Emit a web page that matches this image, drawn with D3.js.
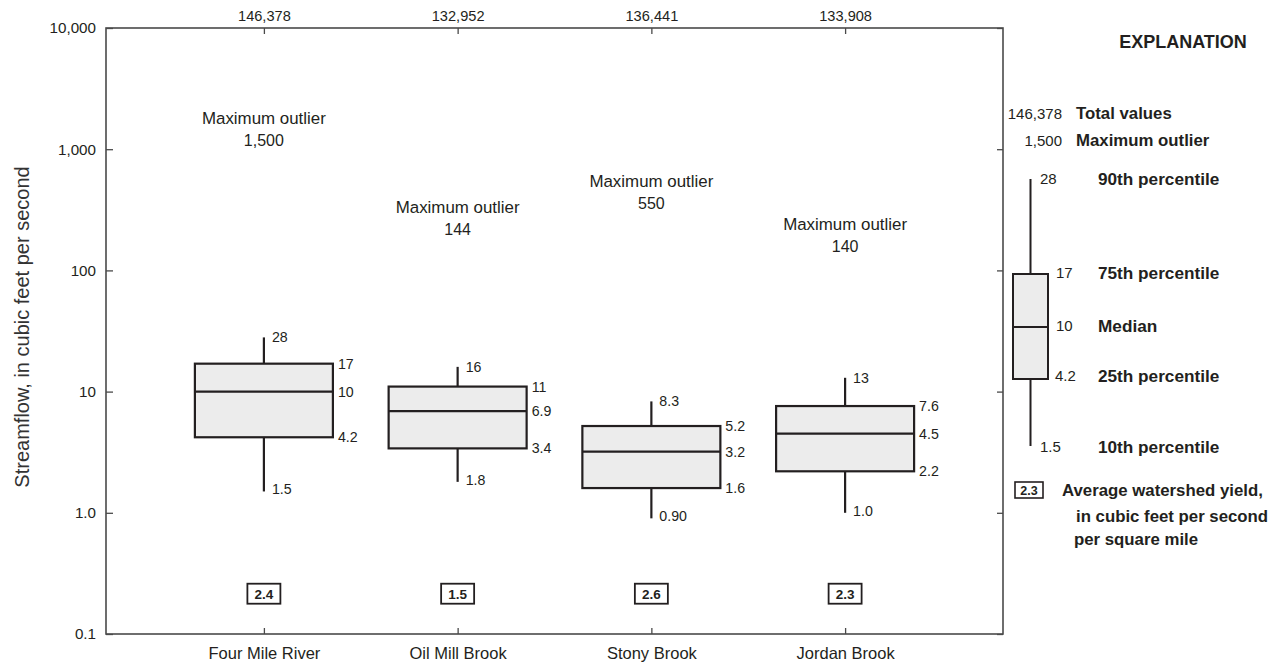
<!DOCTYPE html>
<html>
<head>
<meta charset="utf-8">
<script src="https://cdn.jsdelivr.net/npm/d3@7"></script>
<style>
  html, body { margin: 0; padding: 0; background: #fff; }
  svg { display: block; font-family: "Liberation Sans", Arial, sans-serif; }
</style>
</head>
<body>
<svg id="chart" width="1272" height="666"></svg>
<script>
// ---- data ----
const categories   = ["Four Mile River", "Oil Mill Brook", "Stony Brook", "Jordan Brook"];
const totalValues  = [146378, 132952, 136441, 133908];
const maxOutlier   = [1500, 144, 550, 140];
const outlierLabelAt = [1460, 272, 445, 197];   // label anchor, in streamflow units
const p10    = [1.5, 1.8, 0.90, 1.0];
const p25    = [4.2, 3.4, 1.6, 2.2];
const median = [10, 6.9, 3.2, 4.5];
const p75    = [17, 11, 5.2, 7.6];
const p90    = [28, 16, 8.3, 13];
const avgYield = [2.4, 1.5, 2.6, 2.3];
const yieldLabelAt = 0.215;
const yTicks = [0.1, 1, 10, 100, 1000, 10000];
const yTickLabels = ["0.1", "1.0", "10", "100", "1,000", "10,000"];

// explanation (legend) contents
const legendTotal = "146,378", legendOutlier = "1,500";
const legendStats = [
  { v: "28",  label: "90th percentile" },
  { v: "17",  label: "75th percentile" },
  { v: "10",  label: "Median" },
  { v: "4.2", label: "25th percentile" },
  { v: "1.5", label: "10th percentile" }
];
const legendYield = "2.3";

// ---- layout ----
const svg = d3.select("#chart");
const L = 106, R = 1003, T = 28, B = 634;
const ink = "#231f20", frame = "#4a4a4a";

const x = d3.scalePoint().domain(categories).range([L, R]).padding(0.815);
const y = d3.scaleLog().domain([0.1, 10000]).range([B, T]);
const boxW = 138;

const rows = categories.map((c, i) => ({
  c, total: totalValues[i], out: maxOutlier[i], outAt: outlierLabelAt[i],
  p10: p10[i], p25: p25[i], med: median[i], p75: p75[i], p90: p90[i], yld: avgYield[i]
}));

const fmtBox = d3.format(".2r");
const fmtComma = d3.format(",");

// axes
const gl = svg.append("g").attr("transform", `translate(${L},0)`)
  .call(d3.axisLeft(y).tickValues(yTicks).tickFormat((d, i) => yTickLabels[i]).tickSize(-7).tickPadding(10));
const gr = svg.append("g").attr("transform", `translate(${R},0)`)
  .call(d3.axisRight(y).tickValues(yTicks).tickFormat("").tickSize(-6));
const gb = svg.append("g").attr("transform", `translate(0,${B})`)
  .call(d3.axisBottom(x).tickSize(-6).tickPadding(13));
const gt = svg.append("g").attr("transform", `translate(0,${T})`)
  .call(d3.axisTop(x).tickSize(-6).tickPadding(7).tickFormat((d, i) => fmtComma(totalValues[i])));

[gl, gr, gb, gt].forEach(g => {
  g.select(".domain").remove();
  g.selectAll(".tick line").attr("stroke", frame).attr("stroke-width", 1.3);
  g.selectAll(".tick text").attr("fill", ink).attr("font-family", null);
});
gl.selectAll(".tick text").attr("font-size", 15.2);
gb.selectAll(".tick text").attr("font-size", 16.5);
gt.selectAll(".tick text").attr("font-size", 14.6);

svg.append("rect").attr("x", L).attr("y", T).attr("width", R - L).attr("height", B - T)
  .attr("fill", "none").attr("stroke", frame).attr("stroke-width", 1.6);

// y-axis title
svg.append("text")
  .attr("transform", `translate(29,${(T + B) / 2 - 4}) rotate(-90)`)
  .attr("text-anchor", "middle").attr("font-size", 20).attr("fill", "#333")
  .text("Streamflow, in cubic feet per second");

// boxes
const g = svg.append("g");
const bx = g.selectAll("g.box").data(rows).join("g").attr("class", "box");

bx.append("line").attr("x1", d => x(d.c)).attr("x2", d => x(d.c))
  .attr("y1", d => y(d.p90)).attr("y2", d => y(d.p10))
  .attr("stroke", ink).attr("stroke-width", 2.2);
bx.append("rect")
  .attr("x", d => x(d.c) - boxW / 2).attr("width", boxW)
  .attr("y", d => y(d.p75)).attr("height", d => y(d.p25) - y(d.p75))
  .attr("fill", "#ececec").attr("stroke", ink).attr("stroke-width", 2.2);
bx.append("line").attr("x1", d => x(d.c) - boxW / 2).attr("x2", d => x(d.c) + boxW / 2)
  .attr("y1", d => y(d.med)).attr("y2", d => y(d.med))
  .attr("stroke", ink).attr("stroke-width", 2.2);

// value labels
const lblSize = 14.2;
bx.append("text").attr("x", d => x(d.c) + 8).attr("y", d => y(d.p90)).attr("dy", "0.35em")
  .attr("font-size", lblSize).attr("fill", ink).text(d => fmtBox(d.p90));
bx.append("text").attr("x", d => x(d.c) + 8).attr("y", d => y(d.p10) - 2).attr("dy", "0.35em")
  .attr("font-size", lblSize).attr("fill", ink).text(d => fmtBox(d.p10));
["p75", "med", "p25"].forEach(k => {
  bx.append("text").attr("x", d => x(d.c) + boxW / 2 + 5).attr("y", d => y(d[k])).attr("dy", "0.35em")
    .attr("font-size", lblSize).attr("fill", ink).text(d => fmtBox(d[k]));
});

// maximum outlier annotations
bx.append("text").attr("x", d => x(d.c)).attr("y", d => y(d.outAt) - 11).attr("dy", "0.35em")
  .attr("text-anchor", "middle").attr("font-size", 16.9).attr("fill", ink).text("Maximum outlier");
bx.append("text").attr("x", d => x(d.c)).attr("y", d => y(d.outAt) + 11.5).attr("dy", "0.35em")
  .attr("text-anchor", "middle").attr("font-size", 16).attr("fill", ink).text(d => fmtComma(d.out));

// average yield boxes
bx.append("rect").attr("x", d => x(d.c) - 16.5).attr("y", y(yieldLabelAt) - 10)
  .attr("width", 33).attr("height", 20).attr("fill", "#fff").attr("stroke", ink).attr("stroke-width", 1.8);
bx.append("text").attr("x", d => x(d.c)).attr("y", y(yieldLabelAt)).attr("dy", "0.36em")
  .attr("text-anchor", "middle").attr("font-size", 13.5).attr("font-weight", "bold").attr("fill", ink)
  .text(d => d3.format(".1f")(d.yld));

// ---- explanation ----
const lg = svg.append("g").attr("fill", ink);
lg.append("text").attr("x", 1183).attr("y", 48).attr("text-anchor", "middle")
  .attr("font-size", 18).attr("font-weight", "bold").text("EXPLANATION");

lg.append("text").attr("x", 1062).attr("y", 119).attr("text-anchor", "end").attr("font-size", 15).text(legendTotal);
lg.append("text").attr("x", 1076).attr("y", 119).attr("font-size", 16.8).attr("font-weight", "bold").text("Total values");
lg.append("text").attr("x", 1062).attr("y", 146).attr("text-anchor", "end").attr("font-size", 15).text(legendOutlier);
lg.append("text").attr("x", 1076).attr("y", 146).attr("font-size", 16.8).attr("font-weight", "bold").text("Maximum outlier");

// schematic box
const lx = 1030.5, lbw = 35;
const ly = [179, 274, 327, 379, 446];
lg.append("line").attr("x1", lx).attr("x2", lx).attr("y1", ly[0]).attr("y2", ly[4])
  .attr("stroke", ink).attr("stroke-width", 2);
lg.append("rect").attr("x", lx - lbw / 2).attr("y", ly[1]).attr("width", lbw).attr("height", ly[3] - ly[1])
  .attr("fill", "#ececec").attr("stroke", ink).attr("stroke-width", 2);
lg.append("line").attr("x1", lx - lbw / 2).attr("x2", lx + lbw / 2).attr("y1", ly[2]).attr("y2", ly[2])
  .attr("stroke", ink).attr("stroke-width", 2);
const lvx = [1040, 1056, 1056, 1055, 1040];
const lty = [179, 273, 326, 376, 447];
legendStats.forEach((s, i) => {
  lg.append("text").attr("x", lvx[i]).attr("y", lty[i]).attr("dy", "0.35em").attr("font-size", 15).text(s.v);
  lg.append("text").attr("x", 1098).attr("y", lty[i]).attr("dy", "0.35em").attr("font-size", 17.2)
    .attr("font-weight", "bold").text(s.label);
});

lg.append("rect").attr("x", 1015).attr("y", 482).attr("width", 28).attr("height", 16)
  .attr("fill", "#fff").attr("stroke", ink).attr("stroke-width", 1.6);
lg.append("text").attr("x", 1029).attr("y", 490).attr("dy", "0.36em").attr("text-anchor", "middle")
  .attr("font-size", 12.5).attr("font-weight", "bold").text(legendYield);
lg.append("text").attr("x", 1062).attr("y", 496).attr("font-size", 16.8).attr("font-weight", "bold").text("Average watershed yield,");
lg.append("text").attr("x", 1076).attr("y", 522).attr("font-size", 16.8).attr("font-weight", "bold").text("in cubic feet per second");
lg.append("text").attr("x", 1074).attr("y", 545).attr("font-size", 16.8).attr("font-weight", "bold").text("per square mile");
</script>
</body>
</html>
